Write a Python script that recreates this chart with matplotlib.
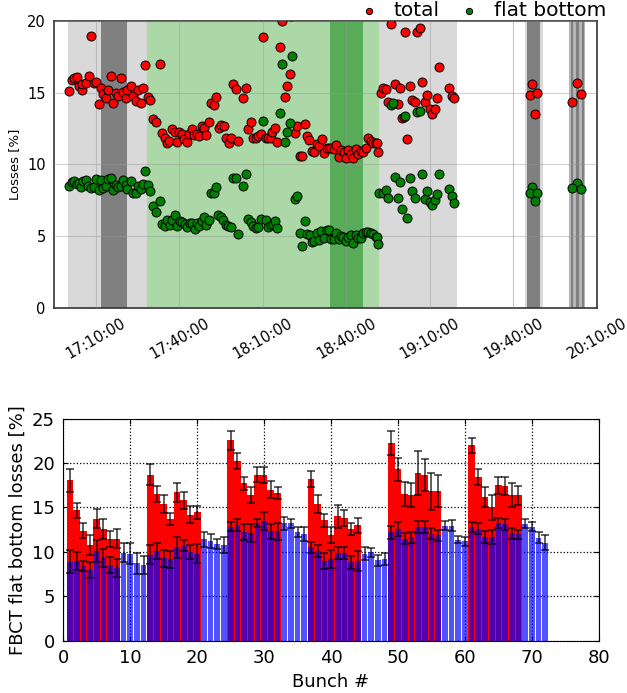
import numpy as np
import pandas as pd
import matplotlib
matplotlib.use('Agg')
import matplotlib.pyplot as plt
import matplotlib.dates as mdates

# ---- top panel data: minutes after 16:55:00, losses in %
t_total = [5.4, 6.6, 7.2, 8.15, 9.0, 9.95, 10.2, 11.4, 12.6, 13.4, 14.4, 15.2, 16.2, 17.0,
           17.7, 18.8, 19.5, 20.5, 21.3, 22.2, 23.0, 23.95, 24.7, 25.7, 26.3, 27.5, 28.4,
           29.3, 30.2, 31.1, 32.0, 32.8, 33.8, 34.5, 35.4, 36.5, 38.1, 38.9, 39.9, 40.5,
           41.3, 42.5, 43.3, 44.3, 44.9, 45.85, 46.7, 47.65, 48.5, 49.4, 50.4, 51.2, 52.1,
           53.0, 53.9, 54.7, 55.7, 56.4, 57.5, 58.3, 59.3, 60.1, 61.05, 61.65, 62.7, 63.6,
           64.4, 65.2, 66.2, 68.0, 68.8, 69.8, 70.6, 71.5, 72.4, 73.4, 74.2, 75.06, 76.0,
           77.0, 77.8, 78.4, 79.3, 80.2, 81.2, 82.0, 85.2, 82.8, 83.8, 84.75, 86.4, 87.4,
           88.3, 89.1, 90.0, 90.7, 91.6, 92.8, 93.4, 94.3, 95.2, 96.1, 97.0, 97.9, 98.8,
           99.6, 100.6, 101.4, 102.4, 103.2, 104.1, 105.0, 105.7, 106.5, 107.5, 108.3,
           109.2, 110.1, 111.1, 111.9, 112.8, 113.7, 114.7, 115.5, 116.1, 116.5, 117.3,
           118.1, 119.1, 119.9, 120.9, 122.5, 123.6, 124.2, 125.1, 125.7, 126.0, 126.9,
           127.8, 128.7, 129.6, 130.4, 131.3, 132.3, 133.1, 134.1, 135.0, 135.9, 136.7,
           137.5, 138.4, 142.0, 142.8, 143.6, 171.8, 171.0, 173.6, 172.6, 187.7, 189.4,
           185.9]
total = [15.10, 15.87, 15.98, 16.05, 15.47, 15.17, 15.57, 15.68, 16.15, 18.91, 15.68, 15.70,
         14.17, 15.29, 14.87, 14.59, 15.19, 16.15, 14.29, 14.94, 14.75, 15.98, 15.01, 14.64,
         15.17, 15.45, 14.77, 14.40, 15.17, 14.29, 15.33, 16.91, 14.66, 14.47, 13.12, 12.92,
         17.01, 12.15, 11.80, 11.45, 11.62, 12.45, 12.24, 11.52, 12.27, 12.10, 11.76, 11.52,
         12.13, 12.45, 12.06, 12.13, 11.97, 12.66, 12.50, 12.06, 12.92, 14.24, 14.12, 14.66,
         12.55, 12.73, 12.64, 11.80, 11.50, 11.85, 15.57, 15.22, 11.62, 14.64, 15.33, 12.43,
         12.94, 11.80, 11.85, 11.99, 12.08, 18.86, 11.80, 11.85, 11.80, 12.22, 12.50, 11.57,
         18.19, 20.0, 20.3, 14.68, 15.45, 16.31, 12.17, 12.66, 10.59, 10.55, 12.82, 11.94,
         11.69, 10.92, 10.87, 11.38, 11.29, 11.73, 10.78, 11.10, 11.10, 11.10, 11.06, 11.34,
         10.52, 10.99, 10.87, 10.45, 10.99, 10.69, 10.41, 11.06, 10.69, 10.92, 10.87, 11.10,
         11.85, 11.62, 11.50, 11.45, 11.50, 10.87, 14.94, 15.33, 15.24, 14.36, 19.75, 15.59,
         14.19, 15.29, 13.24, 13.31, 19.24, 11.76, 15.43, 14.47, 14.31, 19.19, 19.52, 15.70,
         14.31, 14.82, 13.82, 13.48, 13.85, 14.59, 16.80, 15.29, 14.75, 14.64, 15.59, 14.85,
         14.94, 13.52, 15.66, 14.91, 14.36]

t_flat = [5.4, 6.4, 7.2, 8.15, 9.0, 9.8, 10.5, 11.4, 12.3, 13.2, 14.4, 15.2, 16.2, 17.0,
          17.7, 18.8, 19.5, 20.5, 21.3, 22.2, 23.0, 23.95, 24.7, 25.7, 26.3, 27.5, 28.4,
          29.3, 30.2, 31.1, 32.0, 32.8, 33.8, 34.5, 35.4, 36.5, 38.1, 38.9, 39.9, 40.7,
          41.55, 42.5, 43.5, 44.3, 45.1, 46.1, 46.9, 47.9, 48.7, 49.7, 50.5, 51.2, 52.1,
          53.0, 53.9, 54.7, 55.7, 56.5, 57.5, 58.3, 59.0, 59.9, 60.7, 61.7, 62.6, 63.6,
          64.4, 65.2, 66.2, 68.0, 68.8, 69.8, 70.6, 71.5, 72.4, 73.4, 74.2, 75.06, 76.0,
          77.0, 77.8, 78.7, 79.4, 80.2, 81.2, 82.0, 85.6, 82.8, 83.8, 84.75, 86.4, 87.4,
          88.3, 89.1, 90.0, 90.7, 91.9, 92.8, 93.4, 94.3, 95.2, 96.0, 97.0, 97.9, 98.8,
          99.6, 100.6, 101.4, 102.3, 103.2, 103.9, 104.9, 105.7, 106.5, 107.5, 108.3,
          109.2, 110.1, 111.1, 111.9, 112.8, 113.7, 114.7, 115.5, 116.1, 116.5, 116.9,
          118.1, 119.1, 119.9, 120.9, 121.7, 122.5, 123.4, 124.2, 125.1, 126.0, 126.9,
          127.8, 128.7, 129.5, 130.5, 131.3, 132.3, 133.1, 134.1, 134.9, 135.9, 136.7,
          137.5, 138.4, 142.0, 142.8, 143.6, 171.8, 171.0, 173.6, 172.6, 187.7, 185.9,
          189.4]
flat = [8.48, 8.78, 8.85, 8.64, 8.71, 8.41, 8.85, 8.90, 8.50, 8.32, 8.43, 8.97, 8.20, 8.90,
        8.36, 8.50, 8.97, 9.06, 8.23, 8.55, 8.43, 8.46, 8.90, 8.55, 8.27, 8.85, 8.01, 7.97,
        8.50, 8.27, 8.60, 9.53, 8.55, 8.16, 7.06, 6.69, 7.46, 5.81, 5.71, 6.11, 5.76, 6.11,
        6.46, 5.71, 6.04, 5.95, 5.81, 5.65, 5.88, 5.88, 5.46, 5.88, 5.71, 6.04, 6.34, 5.76,
        6.11, 7.97, 7.97, 8.43, 6.46, 6.34, 6.11, 5.76, 5.71, 5.65, 9.06, 9.06, 5.14, 8.50,
        9.29, 6.18, 5.99, 5.69, 5.53, 5.65, 6.18, 13.01, 6.11, 5.65, 5.76, 5.81, 6.04, 5.53,
        13.54, 16.96, 17.54, 11.52, 12.27, 12.89, 7.55, 7.78, 5.18, 4.30, 6.06, 5.14, 5.07,
        4.60, 4.65, 5.18, 4.72, 5.35, 4.88, 5.41, 5.41, 4.79, 4.79, 5.18, 4.79, 5.00, 4.95,
        4.67, 4.95, 5.07, 4.51, 5.07, 4.88, 4.83, 5.18, 5.30, 5.25, 5.18, 5.11, 4.95, 4.95,
        4.42, 7.97, 7.97, 8.20, 7.67, 14.12, 14.24, 9.09, 7.62, 8.78, 6.88, 13.38, 6.27,
        9.06, 8.15, 7.62, 13.66, 13.73, 9.29, 7.57, 8.13, 7.34, 7.16, 7.50, 7.92, 9.32,
        8.27, 7.76, 7.30, 8.39, 7.97, 7.97, 7.41, 8.71, 8.34, 8.27]

# shaded cycle regions (start, end, colour)
spans = [('17:00:00', '17:28:18', '#d9d9d9'),
         ('17:12:00', '17:21:12', '#808080'),
         ('17:28:18', '18:51:48', '#acd8a8'),
         ('18:34:06', '18:46:06', '#58ab58'),
         ('18:51:48', '19:19:48', '#d9d9d9'),
         ('19:39:45', '19:40:15', '#ececec'),
         ('19:44:20', '19:50:40', '#d9d9d9'),
         ('19:45:00', '19:49:24', '#808080'),
         ('19:59:50', '20:05:50', '#b5b5b5'),
         ('20:00:30', '20:01:30', '#808080'),
         ('20:02:30', '20:03:30', '#808080'),
         ('20:04:30', '20:05:20', '#808080')]

# ---- bottom panel data: per bunch losses in %
bunch = np.arange(1, 73)
flat_bunch = [8.9, 9.0, 8.4, 7.9, 10.1, 9.3, 8.5, 8.2, 9.9, 9.8, 8.7, 8.55, 9.7, 10.1, 9.25,
              9.15, 10.5, 10.7, 9.95, 9.8, 11.4, 11.2, 10.9, 10.75, 12.85, 13.0, 12.2, 12.1,
              13.25, 13.5, 12.3, 12.3, 13.2, 13.2, 12.25, 12.05, 10.5, 10.1, 9.0, 9.2, 9.9,
              9.9, 8.8, 8.95, 9.8, 9.95, 9.05, 9.2, 12.2, 12.6, 11.5, 11.65, 12.8, 12.8,
              12.05, 11.85, 12.95, 12.95, 11.35, 11.2, 12.8, 12.6, 11.7, 11.7, 13.25, 13.1,
              12.1, 12.0, 13.15, 12.85, 11.6, 11.05]
flat_err = [1.3, 1.0, 0.6, 0.9, 1.2, 1.0, 0.9, 1.0, 1.1, 1.2, 1.2, 1.0, 1.1, 0.9, 1.0, 1.0,
            1.2, 0.6, 0.8, 1.1, 0.8, 0.8, 0.6, 0.9, 0.5, 0.7, 0.9, 1.0, 0.5, 1.0, 0.8, 1.0,
            0.7, 0.5, 0.6, 0.8, 0.6, 0.7, 0.9, 1.0, 0.7, 0.7, 0.7, 1.1, 0.7, 0.5, 0.6, 0.7,
            0.7, 0.8, 0.6, 0.6, 0.7, 0.7, 0.6, 0.6, 0.5, 0.6, 0.4, 0.5, 0.6, 0.6, 0.7, 0.8,
            0.6, 0.6, 0.6, 0.5, 0.5, 0.5, 0.6, 0.8]
total_bunch_ids = [1, 2, 3, 4, 5, 6, 7, 8, 13, 14, 15, 16, 17, 18, 19, 20, 25, 26, 27, 28,
                   29, 30, 31, 32, 37, 38, 39, 40, 41, 42, 43, 44, 49, 50, 51, 52, 53, 54,
                   55, 56, 61, 62, 63, 64, 65, 66, 67, 68]
total_bunch = [18.05, 14.7, 12.4, 10.75, 13.75, 12.6, 11.5, 11.5, 18.7, 16.5, 15.4, 13.7,
               16.7, 15.8, 14.2, 14.45, 22.55, 20.2, 17.7, 16.4, 18.7, 18.7, 17.0, 16.6,
               18.2, 15.35, 13.55, 11.9, 14.0, 13.85, 12.6, 13.0, 22.2, 19.3, 16.55, 16.35,
               18.9, 18.6, 16.8, 16.9, 22.0, 18.4, 16.2, 15.0, 17.5, 17.4, 16.35, 16.35]
total_err = [1.3, 0.85, 0.85, 1.1, 1.1, 1.1, 0.9, 1.1, 1.15, 0.9, 1.05, 0.7, 1.1, 0.95, 1.0,
             0.75, 1.05, 0.9, 0.7, 0.9, 0.8, 0.9, 0.95, 0.65, 0.95, 1.0, 0.75, 0.9, 1.3, 0.9,
             0.7, 0.85, 1.35, 1.3, 1.35, 1.35, 2.5, 1.8, 2.1, 1.8, 0.85, 0.9, 1.15, 1.45,
             0.95, 1.0, 1.35, 1.05]

base = pd.Timestamp('2015-06-01 16:55:00')


def to_time(minutes):
    return base + pd.to_timedelta(np.asarray(minutes), unit='m')


def clock(s):
    return pd.Timestamp('2015-06-01 ' + s)


fig = plt.figure(figsize=(6.27, 6.93), dpi=100)

# ---------------- top panel
ax1 = fig.add_axes([0.0861, 0.556, 0.866, 0.414])
for start, end, col in spans:
    ax1.axvspan(clock(start), clock(end), color=col, lw=0, zorder=0)

ax1.scatter(to_time(t_total), total, s=42, c='red', edgecolors='black', linewidths=0.7,
            zorder=3, label='total')
ax1.scatter(to_time(t_flat), flat, s=42, c='green', edgecolors='black', linewidths=0.7,
            zorder=3, label='flat bottom')

ax1.set_xlim(clock('16:55:00'), clock('20:10:00'))
ax1.set_ylim(0, 20)
ax1.set_yticks([0, 5, 10, 15, 20])
ax1.xaxis.set_major_locator(mdates.MinuteLocator(byminute=[10, 40]))
ax1.xaxis.set_major_formatter(mdates.DateFormatter('%H:%M:%S'))
ax1.grid(True, color='#999999', alpha=0.45, lw=0.8, zorder=1)
ax1.set_axisbelow(False)
ax1.tick_params(length=0, labelsize=10.5, pad=6)
for lab in ax1.get_xticklabels():
    lab.set_rotation(30)
for sp in ax1.spines.values():
    sp.set_color('#333333')
    sp.set_linewidth(1.2)
ax1.set_ylabel('Losses [%]', fontsize=9.5)
ax1.legend(loc='center', bbox_to_anchor=(0.79, 1.035), ncol=2, frameon=False,
           fontsize=14.5, markerscale=0.7, handlelength=0.9, handletextpad=0.8,
           columnspacing=1.0, borderpad=0, borderaxespad=0)

# ---------------- bottom panel
ax2 = fig.add_axes([0.101, 0.0755, 0.854, 0.3205])
ax2.bar(total_bunch_ids, total_bunch, width=1.0, color='red', lw=0, zorder=2)
ax2.bar(bunch, flat_bunch, width=0.85, color='blue', alpha=0.68, lw=0, zorder=3)
ax2.errorbar(total_bunch_ids, total_bunch, yerr=total_err, fmt='none', ecolor='black',
             elinewidth=1.1, capsize=3, capthick=1.1, alpha=0.8, zorder=4)
ax2.errorbar(bunch, flat_bunch, yerr=flat_err, fmt='none', ecolor='black',
             elinewidth=1.1, capsize=3, capthick=1.1, alpha=0.8, zorder=4)
ax2.set_xlim(0, 80)
ax2.set_ylim(0, 25)
ax2.set_xticks(range(0, 81, 10))
ax2.set_yticks(range(0, 26, 5))
ax2.grid(True, color='black', linestyle=':', lw=0.9, zorder=1)
ax2.set_axisbelow(True)
ax2.tick_params(direction='in', top=True, right=True, labelsize=13, pad=6)
ax2.set_xlabel('Bunch #', fontsize=13)
ax2.set_ylabel('FBCT flat bottom losses [%]', fontsize=13)

fig.savefig('out.png', dpi=100)
